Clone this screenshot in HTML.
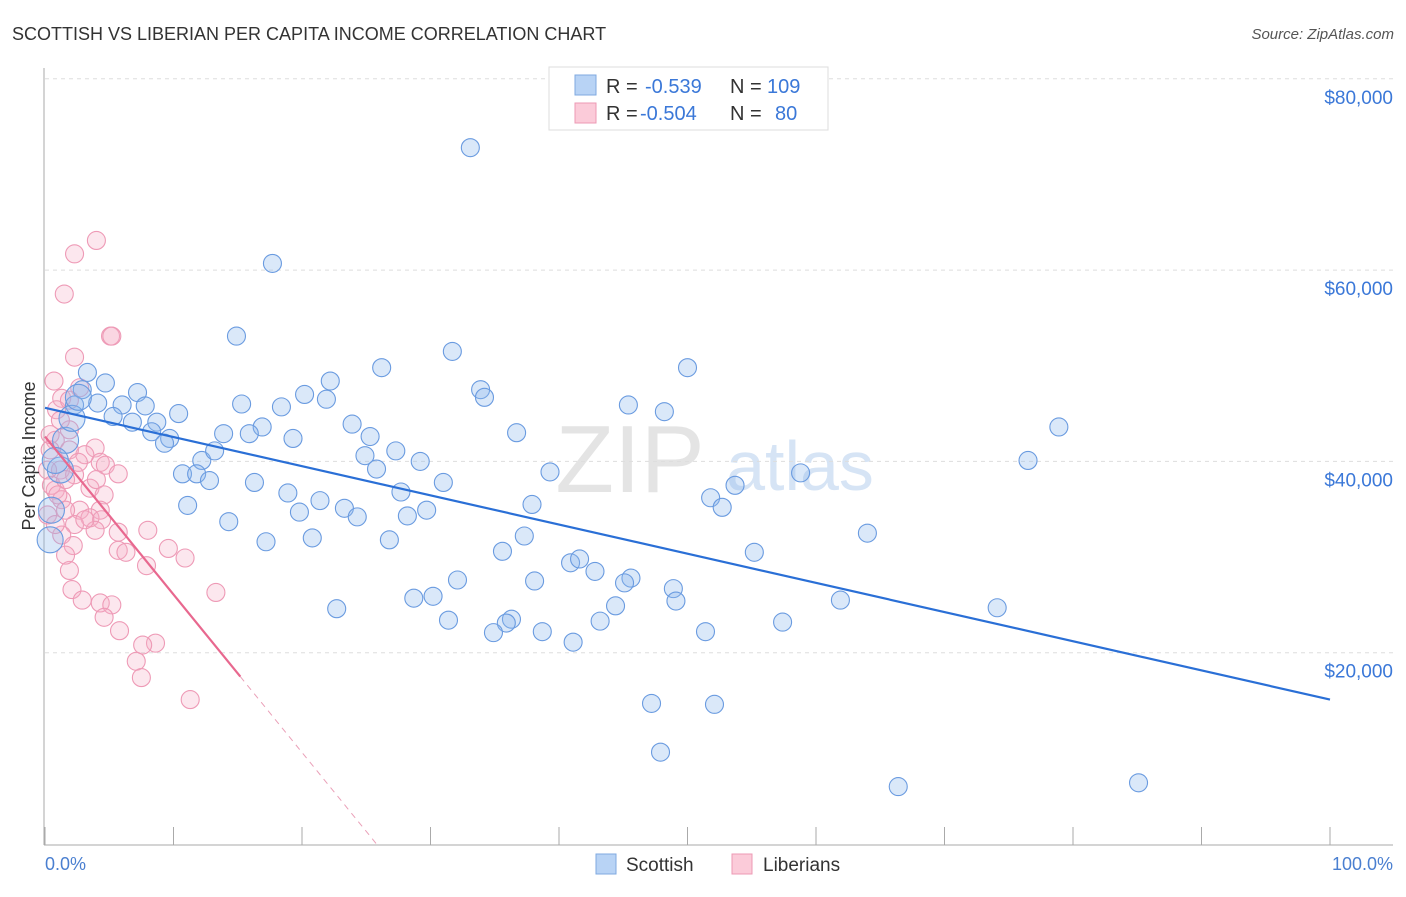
<!DOCTYPE html>
<html><head><meta charset="utf-8"><style>
body{margin:0;background:#fff;font-family:"Liberation Sans",sans-serif;}
svg text{font-family:"Liberation Sans",sans-serif;}
</style></head><body>
<svg id="c" width="1406" height="892">
<text x="12" y="40" font-size="18" fill="#333">SCOTTISH VS LIBERIAN PER CAPITA INCOME CORRELATION CHART</text>
<text x="1394" y="39" font-size="15" fill="#555" font-style="italic" text-anchor="end">Source: ZipAtlas.com</text>
<text x="630" y="492" font-size="96" fill="#e4e4e4" font-family="Liberation Serif" text-anchor="middle">ZIP</text>
<text x="800" y="490" font-size="70" fill="#d6e4f5" text-anchor="middle">atlas</text>
<g id="grid"></g><g id="axes"></g><g id="pts"></g><g id="lines"></g>
<text x="35" y="456" font-size="18" fill="#333" text-anchor="middle" transform="rotate(-90 35 456)">Per Capita Income</text>
<text x="45" y="870" font-size="18" fill="#4a7fd0">0.0%</text>
<text x="1393" y="870" font-size="18" fill="#4a7fd0" text-anchor="end">100.0%</text>
<g>
<rect x="549" y="67" width="279" height="63" fill="#fff" stroke="#ddd"/>
<rect x="575" y="75" width="21" height="20" fill="#b8d3f5" stroke="#7fa9e0"/>
<rect x="575" y="103" width="21" height="20" fill="#fbcbd9" stroke="#ec9ab4"/>
<text x="606" y="93" font-size="20" fill="#333">R = </text><text x="645" y="93" font-size="20" fill="#3b78d8">-0.539</text>
<text x="730" y="93" font-size="20" fill="#333">N = </text><text x="767" y="93" font-size="20" fill="#3b78d8">109</text>
<text x="606" y="120" font-size="20" fill="#333">R = </text><text x="640" y="120" font-size="20" fill="#3b78d8">-0.504</text>
<text x="730" y="120" font-size="20" fill="#333">N = </text><text x="775" y="120" font-size="20" fill="#3b78d8">80</text>
</g>
<g><rect x="596" y="854" width="20" height="20" fill="#b8d3f5" stroke="#7fa9e0"/><text x="626" y="871" font-size="19" fill="#333">Scottish</text></g>
<g><rect x="732" y="854" width="20" height="20" fill="#fbcbd9" stroke="#ec9ab4"/><text x="763" y="871" font-size="19" fill="#333">Liberians</text></g>
</svg>
<script>
const yTicks=[20000,40000,60000,80000];
const yTickLabels=["$20,000","$40,000","$60,000","$80,000"];
const xTicks=[0,10,20,30,40,50,60,70,80,90,100];
const scotX=[33.1,17.7,14.9,31.7,26.2,50.0,3.3,4.7,2.9,7.2,20.2,22.2,21.9,33.9,34.2,2.3,4.1,6.0,7.8,15.3,18.4,45.4,48.2,10.4,5.3,6.8,8.7,23.9,16.9,13.9,8.3,15.9,9.7,9.3,19.3,25.3,36.7,78.9,27.3,24.9,29.2,12.2,13.2,25.8,39.3,58.8,76.5,10.7,11.8,12.8,16.3,31.0,53.7,18.9,27.7,21.4,11.1,37.9,51.8,52.7,23.3,19.8,29.7,28.2,24.3,14.3,20.8,17.2,26.8,37.3,64.0,35.6,55.2,40.9,41.6,42.8,32.1,38.1,45.6,45.1,48.9,49.1,28.7,30.2,61.9,44.4,74.1,22.7,31.4,36.3,35.9,38.7,34.9,43.2,51.4,57.4,41.1,47.2,52.1,47.9,66.4,85.1,0.4,1.2,1.6,2.1,2.6,0.8,0.5];
const scotY=[72800,60700,53100,51500,49800,49800,49300,48200,47500,47200,47000,48400,46500,47500,46700,45900,46100,45900,45800,46000,45700,45900,45200,45000,44700,44100,44100,43900,43600,42900,43100,42900,42400,41900,42400,42600,43000,43600,41100,40600,40000,40100,41100,39200,38900,38800,40100,38700,38700,38000,37800,37800,37500,36700,36800,35900,35400,35500,36200,35200,35100,34700,34900,34300,34200,33700,32000,31600,31800,32200,32500,30600,30500,29400,29800,28500,27600,27500,27800,27300,26700,25400,25700,25900,25500,24900,24700,24600,23400,23500,23100,22200,22100,23300,22200,23200,21100,14700,14600,9600,6000,6400,31800,39100,42200,44500,46700,40100,34900];
const libX=[4.0,2.3,1.5,5.1,5.2,2.3,0.7,2.7,1.3,0.9,1.9,3.9,4.3,3.1,4.7,0.8,1.2,2.3,3.5,4.0,5.7,4.6,0.8,1.3,2.7,4.3,3.5,4.4,2.3,1.3,2.2,3.9,5.7,8.0,9.6,10.9,5.7,6.3,1.9,2.1,2.9,4.3,5.2,7.9,8.6,4.6,5.8,7.6,7.1,7.5,11.3,13.3,0.4,0.2,0.5,1.0,1.6,1.6,0.2,0.8,1.9,1.2,0.4,1.9,2.6,3.1,1.6];
const libY=[63100,61700,57500,53100,53100,50900,48400,47700,46600,45400,43300,41400,39900,40700,39600,42200,39100,38600,37200,38100,38700,36500,37000,36000,34900,34900,34100,33900,33400,32300,31200,32800,32600,32800,30900,29900,30700,30500,28600,26600,25500,25200,25000,29100,21000,23700,22300,20800,19100,17400,15100,26300,41200,39100,37500,36500,38100,34900,34400,33400,46400,44300,42800,41200,39900,33900,30200];
const scotTrend=[45600,15100];
const libTrend=[42600,17500];
const libSolidEnd=15.2;
const NS='http://www.w3.org/2000/svg';
const X0=45,X1=1330,Y0=844,YS=191.3/20000;
function sx(v){return X0+(X1-X0)*v/100;}
function sy(v){return Y0-v*YS;}
function mk(tag,attrs,parent){const e=document.createElementNS(NS,tag);for(const k in attrs)e.setAttribute(k,attrs[k]);document.getElementById(parent).appendChild(e);return e;}
yTicks.forEach((t,i)=>{
 const l=mk('line',{x1:45,x2:1393,y1:sy(t),y2:sy(t),stroke:'#ddd','stroke-dasharray':'4 4'},'grid');
 
 
 const tx=mk('text',{x:1393,y:sy(t)+25,'font-size':19,fill:'#3b78d8','text-anchor':'end'},'grid');
 tx.textContent=yTickLabels[i];
 
 
});
let a=mk('line',{x1:44,x2:44,y1:68,y2:845,stroke:'#aaa'},'axes');


a=mk('line',{x1:44,x2:1393,y1:845,y2:845,stroke:'#aaa'},'axes');


xTicks.forEach(t=>{const k=mk('line',{x1:sx(t),x2:sx(t),y1:827,y2:845,stroke:'#aaa'},'axes');
 
 });
libX.forEach((x,i)=>{const c=mk('circle',{cx:sx(x),cy:sy(libY[i]),r:9,fill:'rgba(246,175,198,0.3)',stroke:'#ee9ab6','stroke-width':1.1},'pts');
 
 });
scotX.forEach((x,i)=>{const c=mk('circle',{cx:sx(x),cy:sy(scotY[i]),r:(x<3&&i>=102)?13:9,fill:'rgba(140,182,235,0.32)',stroke:'#6a9be0','stroke-width':1.1},'pts');
 
 });
let t=mk('line',{x1:sx(0),y1:sy(scotTrend[0]),x2:sx(100),y2:sy(scotTrend[1]),stroke:'#2a6fd6','stroke-width':2.2},'lines');


const slope=(libTrend[1]-libTrend[0])/libSolidEnd;
const zeroX=-libTrend[0]/slope;
t=mk('line',{x1:sx(0),y1:sy(libTrend[0]),x2:sx(libSolidEnd),y2:sy(libTrend[1]),stroke:'#e8688f','stroke-width':2.2},'lines');


t=mk('line',{x1:sx(libSolidEnd),y1:sy(libTrend[1]),x2:sx(zeroX),y2:sy(0),stroke:'#eaa0b8','stroke-width':1,'stroke-dasharray':'6 5'},'lines');


</script>
</body></html>
